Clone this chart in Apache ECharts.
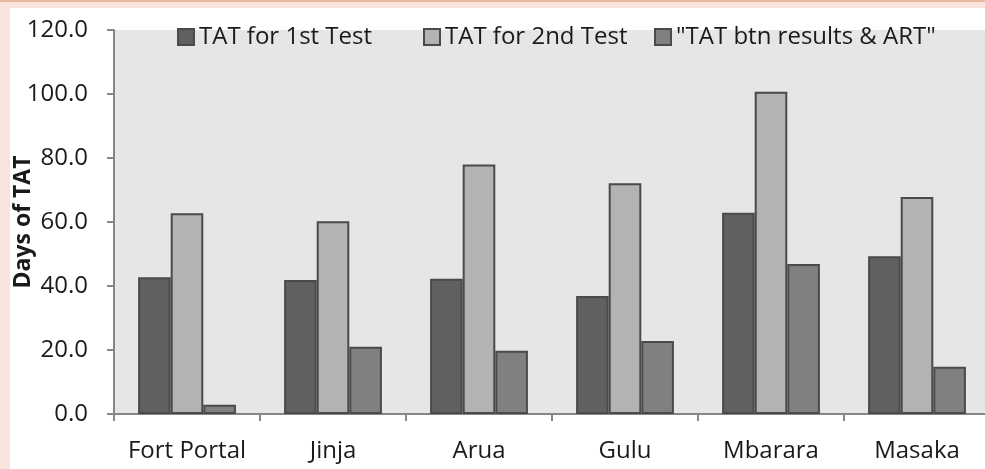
<!DOCTYPE html>
<html>
<head>
<meta charset="utf-8">
<script src="https://cdn.jsdelivr.net/npm/echarts@6/dist/echarts.min.js"></script>
<style>
html,body{margin:0;padding:0;background:#f8e4da;}
#c{width:985px;height:469px;}
</style>
</head>
<body>
<div id="c"></div>
<script>
var categories = ["Fort Portal", "Jinja", "Arua", "Gulu", "Mbarara", "Masaka"];
var seriesNames = ["TAT for 1st Test", "TAT for 2nd Test", "\"TAT btn results & ART\""];
var tat1st = [42.7, 41.9, 42.3, 36.9, 62.9, 49.3];
var tat2nd = [62.7, 60.2, 78.0, 72.1, 100.7, 67.8];
var tatArt = [2.9, 21.0, 19.8, 22.8, 46.9, 14.8];
var yTicks = [0, 20, 40, 60, 80, 100, 120];

var colors = ["#606060", "#b3b3b3", "#808080"];
var font = "Open Sans";
var chart = echarts.init(document.getElementById('c'));
function bar(name, data, color) {
  return {
    name: name, type: 'bar', data: data,
    barGap: '0%', barCategoryGap: '33%',
    itemStyle: { color: color, borderColor: '#4a4a4a', borderWidth: 2 },
    emphasis: { disabled: true }
  };
}
function leg(name, left) {
  return {
    left: left, top: 20, icon: 'rect',
    itemWidth: 16, itemHeight: 16, itemGap: 0,
    textStyle: { fontFamily: font, fontSize: 24, color: '#1a1a1a' },
    data: [name], selectedMode: false
  };
}
chart.setOption({
  backgroundColor: '#f8e4da',
  animation: false,
  graphic: [
    { type: 'rect', shape: { x: 10, y: 8, width: 980, height: 470 }, style: { fill: '#ffffff' }, z: -10, silent: true },
    { type: 'rect', shape: { x: 0, y: 0, width: 985, height: 2 }, style: { fill: '#eab9a2' }, z: -10, silent: true }
  ],
  textStyle: { fontFamily: font },
  legend: [leg(seriesNames[0], 172), leg(seriesNames[1], 418), leg(seriesNames[2], 649)],
  grid: { left: 114, top: 30, width: 876, height: 384, show: true, backgroundColor: '#e6e6e6', borderWidth: 0,
    outerBoundsMode: 'none', containLabel: false },
  xAxis: {
    type: 'category', data: categories,
    axisLine: { lineStyle: { color: '#868686', width: 2 } },
    axisTick: { show: true, length: 7, interval: 0, lineStyle: { color: '#868686', width: 2 } },
    axisLabel: { fontFamily: font, fontSize: 24, color: '#1a1a1a', margin: 25, interval: 0, hideOverlap: false }
  },
  yAxis: {
    type: 'value', min: 0, max: 120, interval: 20,
    name: 'Days of TAT', nameLocation: 'middle', nameRotate: 90, nameGap: 79, nameMoveOverlap: false,
    nameTextStyle: { fontFamily: font, fontSize: 23, fontWeight: 'bold', color: '#1a1a1a' },
    axisLine: { show: true, lineStyle: { color: '#868686', width: 2 } },
    axisTick: { show: true, length: 7, lineStyle: { color: '#868686', width: 2 } },
    splitLine: { show: false },
    axisLabel: { fontFamily: font, fontSize: 24, color: '#1a1a1a', margin: 26,
      formatter: function (v) { return yTicks.indexOf(v) >= 0 ? v.toFixed(1) : ''; } }
  },
  series: [
    bar(seriesNames[0], tat1st, colors[0]),
    bar(seriesNames[1], tat2nd, colors[1]),
    bar(seriesNames[2], tatArt, colors[2])
  ]
});
</script>
</body>
</html>
